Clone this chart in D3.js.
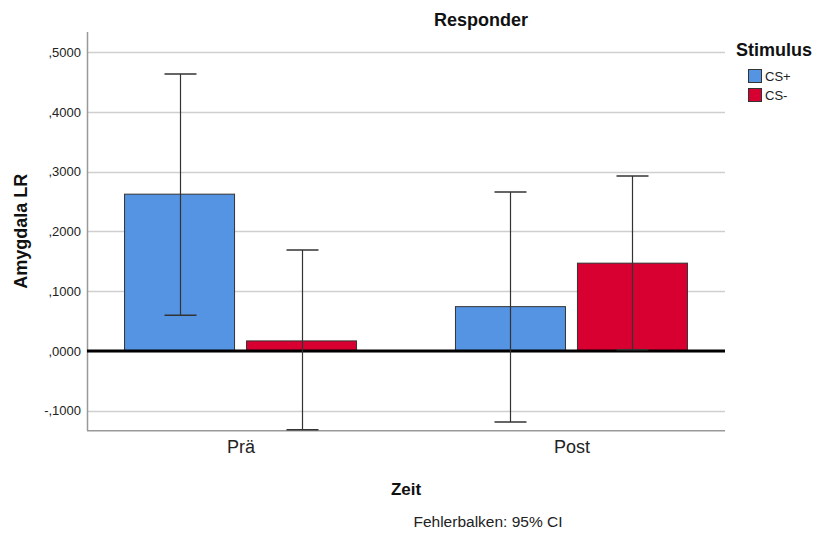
<!DOCTYPE html>
<html>
<head>
<meta charset="utf-8">
<script src="https://cdn.jsdelivr.net/npm/d3@7"></script>
<style>
  html, body { margin: 0; padding: 0; background: #fff; }
  svg { display: block; font-family: "Liberation Sans", Arial, sans-serif; }
</style>
</head>
<body>
<svg id="chart" width="814" height="534"></svg>
<script>
// Zeitpunkte und Stimulus-Bedingungen
const categories = ["Prä", "Post"];
const seriesNames = ["CS+", "CS-"];
const seriesColors = ["#5594e3", "#d70031"];

// Mittelwerte je Bedingung (Reihenfolge wie categories)
const meanCSplus  = [0.2625, 0.0742];
const meanCSminus = [0.0168, 0.1470];
// 95%-Konfidenzintervalle
const ciLowCSplus   = [0.0597, -0.1190];
const ciHighCSplus  = [0.4635, 0.2660];
const ciLowCSminus  = [-0.1320, 0.0020];
const ciHighCSminus = [0.1690, 0.2930];

const yTicks = [-0.1, 0, 0.1, 0.2, 0.3, 0.4, 0.5];
const yDomain = [-0.1335, 0.534];

const series = [
  { name: seriesNames[0], color: seriesColors[0], mean: meanCSplus,  lo: ciLowCSplus,  hi: ciHighCSplus },
  { name: seriesNames[1], color: seriesColors[1], mean: meanCSminus, lo: ciLowCSminus, hi: ciHighCSminus }
];

const svg = d3.select("#chart");
const plot = { left: 87, right: 725, top: 32, bottom: 430.7 };

const x = d3.scalePoint().domain(categories).range([plot.left, plot.right]).padding(0.464);
const inner = d3.scaleBand().domain(seriesNames).range([-116, 116]).paddingInner(12 / 122);
const y = d3.scaleLinear().domain(yDomain).range([plot.bottom, plot.top]);

const fmt = v => v.toFixed(4).replace("0.", ",");

// Gitterlinien
svg.append("g")
  .selectAll("line").data(yTicks).join("line")
  .attr("x1", plot.left).attr("x2", plot.right)
  .attr("y1", d => Math.round(y(d)) + 0.5).attr("y2", d => Math.round(y(d)) + 0.5)
  .attr("stroke", "#cfcfcf").attr("stroke-width", 1.3);

// y-Achse
const yAxis = d3.axisLeft(y).tickValues(yTicks).tickFormat(fmt).tickSize(0).tickPadding(6);
const gy = svg.append("g").attr("transform", `translate(${plot.left},0)`).call(yAxis);
gy.select(".domain").remove();
gy.selectAll("text").attr("font-size", 13).attr("fill", "#222")
  .attr("font-family", "'Liberation Sans', Arial, sans-serif");

svg.append("line")
  .attr("x1", plot.left + 0.5).attr("x2", plot.left + 0.5)
  .attr("y1", plot.top).attr("y2", plot.bottom)
  .attr("stroke", "#999").attr("stroke-width", 1.5);
svg.append("line")
  .attr("x1", plot.left).attr("x2", plot.right)
  .attr("y1", plot.bottom).attr("y2", plot.bottom)
  .attr("stroke", "#999").attr("stroke-width", 1.5);

// Balken
const groups = svg.append("g").selectAll("g").data(series).join("g");
groups.selectAll("rect")
  .data(s => categories.map((c, i) => ({ c, v: s.mean[i], color: s.color, name: s.name })))
  .join("rect")
  .attr("x", d => x(d.c) + inner(d.name))
  .attr("width", inner.bandwidth())
  .attr("y", d => y(Math.max(0, d.v)))
  .attr("height", d => Math.abs(y(d.v) - y(0)))
  .attr("fill", d => d.color)
  .attr("stroke", "#333").attr("stroke-width", 1);

// Nulllinie
svg.append("line")
  .attr("x1", plot.left).attr("x2", plot.right)
  .attr("y1", y(0)).attr("y2", y(0))
  .attr("stroke", "#000").attr("stroke-width", 3);

// Fehlerbalken
const errs = [];
series.forEach(s => categories.forEach((c, i) => errs.push({
  cx: x(c) + inner(s.name) + inner.bandwidth() / 2, lo: s.lo[i], hi: s.hi[i]
})));
const eg = svg.append("g").attr("stroke", "#333").attr("stroke-width", 1.2);
errs.forEach(e => {
  const cx = Math.round(e.cx) + 0.5;
  eg.append("line").attr("x1", cx).attr("x2", cx).attr("y1", y(e.hi)).attr("y2", y(e.lo));
  eg.append("line").attr("x1", cx - 16).attr("x2", cx + 16).attr("y1", y(e.hi)).attr("y2", y(e.hi)).attr("stroke-width", 1.5);
  eg.append("line").attr("x1", cx - 16).attr("x2", cx + 16).attr("y1", y(e.lo)).attr("y2", y(e.lo)).attr("stroke-width", 1.5);
});

// x-Achsenbeschriftung
const xAxis = d3.axisBottom(x).tickSize(0).tickPadding(10);
const gx = svg.append("g").attr("transform", `translate(0,${plot.bottom})`).call(xAxis);
gx.select(".domain").remove();
gx.selectAll("text").attr("font-size", 18).attr("fill", "#222")
  .attr("font-family", "'Liberation Sans', Arial, sans-serif");

// Titel und Achsentitel
svg.append("text").attr("x", 481).attr("y", 26).attr("text-anchor", "middle")
  .attr("font-size", 18).attr("font-weight", "bold").attr("fill", "#111").text("Responder");
svg.append("text").attr("x", (plot.left + plot.right) / 2).attr("y", 495).attr("text-anchor", "middle")
  .attr("font-size", 17).attr("font-weight", "bold").attr("fill", "#111").text("Zeit");
svg.append("text")
  .attr("transform", `translate(27,${(plot.top + plot.bottom) / 2}) rotate(-90)`)
  .attr("text-anchor", "middle")
  .attr("font-size", 18).attr("font-weight", "bold").attr("fill", "#111").text("Amygdala LR");
svg.append("text").attr("x", 488).attr("y", 527).attr("text-anchor", "middle")
  .attr("font-size", 15.5).attr("fill", "#222").text("Fehlerbalken: 95% CI");

// Legende
const leg = svg.append("g");
leg.append("text").attr("x", 736).attr("y", 56)
  .attr("font-size", 18).attr("font-weight", "bold").attr("fill", "#111").text("Stimulus");
series.forEach((s, i) => {
  leg.append("rect").attr("x", 748.5).attr("y", 69.5 + i * 19).attr("width", 13).attr("height", 13)
    .attr("fill", s.color).attr("stroke", "#333").attr("stroke-width", 1);
  leg.append("text").attr("x", 765).attr("y", 81 + i * 19)
    .attr("font-size", 13).attr("fill", "#222").text(s.name);
});
</script>
</body>
</html>
